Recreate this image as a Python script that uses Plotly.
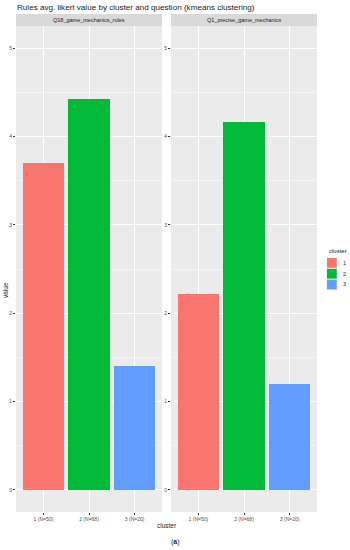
import plotly.graph_objects as go

# ---- data ----
categories = ["1 (N=50)", "2 (N=68)", "3 (N=20)"]
clusters = ["1", "2", "3"]
questions = ["Q18_game_mechanics_rules", "Q1_precise_game_mechanics"]
q18_values = [3.70, 4.42, 1.40]
q1_values = [2.22, 4.16, 1.20]
colors = ["#F8766D", "#00BA38", "#619CFF"]

W, H = 350, 550
FONT = "Liberation Sans, Arial, sans-serif"

fig = go.Figure()

panel_values = [q18_values, q1_values]
for p, vals in enumerate(panel_values):
    xa = "x" if p == 0 else "x2"
    ya = "y" if p == 0 else "y2"
    for i, cl in enumerate(clusters):
        fig.add_trace(go.Bar(
            x=[categories[i]], y=[vals[i]],
            name=cl, legendgroup=cl, showlegend=False,
            marker=dict(color=colors[i], line=dict(width=0)),
            width=0.9, xaxis=xa, yaxis=ya,
        ))

# panel geometry (pixels)
p1 = (16, 162)
p2 = (171, 317)
top_px, bot_px = 26, 512
strip_top = 14

def px_x(v):
    return v / W

def px_y(v):
    return 1 - v / H

ydom = [px_y(bot_px), px_y(top_px)]

common_x = dict(
    type="category", categoryorder="array", categoryarray=categories,
    range=[-0.6, 2.6], showgrid=True, gridcolor="white", gridwidth=1,
    ticks="outside", ticklen=2, tickcolor="#333333", tickwidth=0.6,
    tickfont=dict(size=5, color="#4D4D4D", family=FONT),
    zeroline=False, showline=False, fixedrange=True,
)
common_y = dict(
    range=[-0.25, 5.25], tickvals=[0, 1, 2, 3, 4, 5],
    showgrid=True, gridcolor="white", gridwidth=1,
    minor=dict(showgrid=True, gridcolor="#F4F4F4", gridwidth=0.6,
               tickvals=[0.5, 1.5, 2.5, 3.5, 4.5]),
    ticks="outside", ticklen=2, tickcolor="#333333", tickwidth=0.6,
    tickfont=dict(size=5, color="#4D4D4D", family=FONT),
    zeroline=False, showline=False, fixedrange=True,
)

fig.update_layout(
    width=W, height=H,
    margin=dict(l=0, r=0, t=0, b=0),
    paper_bgcolor="white", plot_bgcolor="#EBEBEB",
    bargap=0,
    xaxis=dict(domain=[px_x(p1[0]), px_x(p1[1])], anchor="y", **common_x),
    yaxis=dict(domain=ydom, anchor="x", **common_y),
    xaxis2=dict(domain=[px_x(p2[0]), px_x(p2[1])], anchor="y2", **common_x),
    yaxis2=dict(domain=ydom, anchor="x2", **common_y),
    font=dict(family=FONT, color="#1A1A1A"),
    showlegend=False,
    hovermode=False,
)

# strips
shapes = []
annotations = []
for (x0, x1), q in zip([p1, p2], questions):
    shapes.append(dict(type="rect", xref="paper", yref="paper",
                       x0=px_x(x0), x1=px_x(x1), y0=px_y(top_px), y1=px_y(strip_top),
                       fillcolor="#D9D9D9", line=dict(width=0), layer="below"))
    annotations.append(dict(text=q, xref="paper", yref="paper",
                            x=px_x((x0 + x1) / 2), y=px_y((strip_top + top_px) / 2),
                            showarrow=False, xanchor="center", yanchor="middle",
                            font=dict(size=5.5, color="#1A1A1A", family=FONT)))

# legend (ggplot-style keys)
leg_x0, leg_y0, key = 327, 257.5, 10.8
annotations.append(dict(text="cluster", xref="paper", yref="paper",
                        x=px_x(leg_x0 - 0.5), y=px_y(251), xanchor="left", yanchor="middle",
                        showarrow=False, font=dict(size=6, color="#1A1A1A", family=FONT)))
for i, cl in enumerate(clusters):
    ky0 = leg_y0 + i * key
    shapes.append(dict(type="rect", xref="paper", yref="paper",
                       x0=px_x(leg_x0 - 0.5), x1=px_x(leg_x0 + key - 0.5),
                       y0=px_y(ky0 + key), y1=px_y(ky0),
                       fillcolor="#F2F2F2", line=dict(width=0)))
    shapes.append(dict(type="rect", xref="paper", yref="paper",
                       x0=px_x(leg_x0), x1=px_x(leg_x0 + key - 1),
                       y0=px_y(ky0 + key - 0.5), y1=px_y(ky0 + 0.5),
                       fillcolor=colors[i], line=dict(width=0)))
    annotations.append(dict(text=cl, xref="paper", yref="paper",
                            x=px_x(leg_x0 + key + 3), y=px_y(ky0 + key / 2),
                            xanchor="left", yanchor="middle", showarrow=False,
                            font=dict(size=5.5, color="#1A1A1A", family=FONT)))

annotations += [
    dict(text="Rules avg. likert value by cluster and question (kmeans clustering)",
         xref="paper", yref="paper", x=px_x(15), y=px_y(7.5),
         xanchor="left", yanchor="middle", showarrow=False,
         font=dict(size=8.1, color="#1A1A1A", family=FONT)),
    dict(text="cluster", xref="paper", yref="paper", x=px_x(166.5), y=px_y(525),
         xanchor="center", yanchor="middle", showarrow=False,
         font=dict(size=6.5, color="#1A1A1A", family=FONT)),
    dict(text="value", xref="paper", yref="paper", x=px_x(5), y=px_y(290),
         xanchor="center", yanchor="middle", showarrow=False, textangle=-90,
         font=dict(size=6.5, color="#1A1A1A", family=FONT)),
    dict(text="(<b>a</b>)", xref="paper", yref="paper", x=px_x(175), y=px_y(542),
         xanchor="center", yanchor="middle", showarrow=False,
         font=dict(size=7, color="#1A1A1A", family=FONT)),
]
fig.update_layout(shapes=shapes, annotations=annotations)

fig.write_html("out.html", config={"displayModeBar": False},
               post_script="document.body.style.margin='0';document.body.style.overflow='hidden';")
